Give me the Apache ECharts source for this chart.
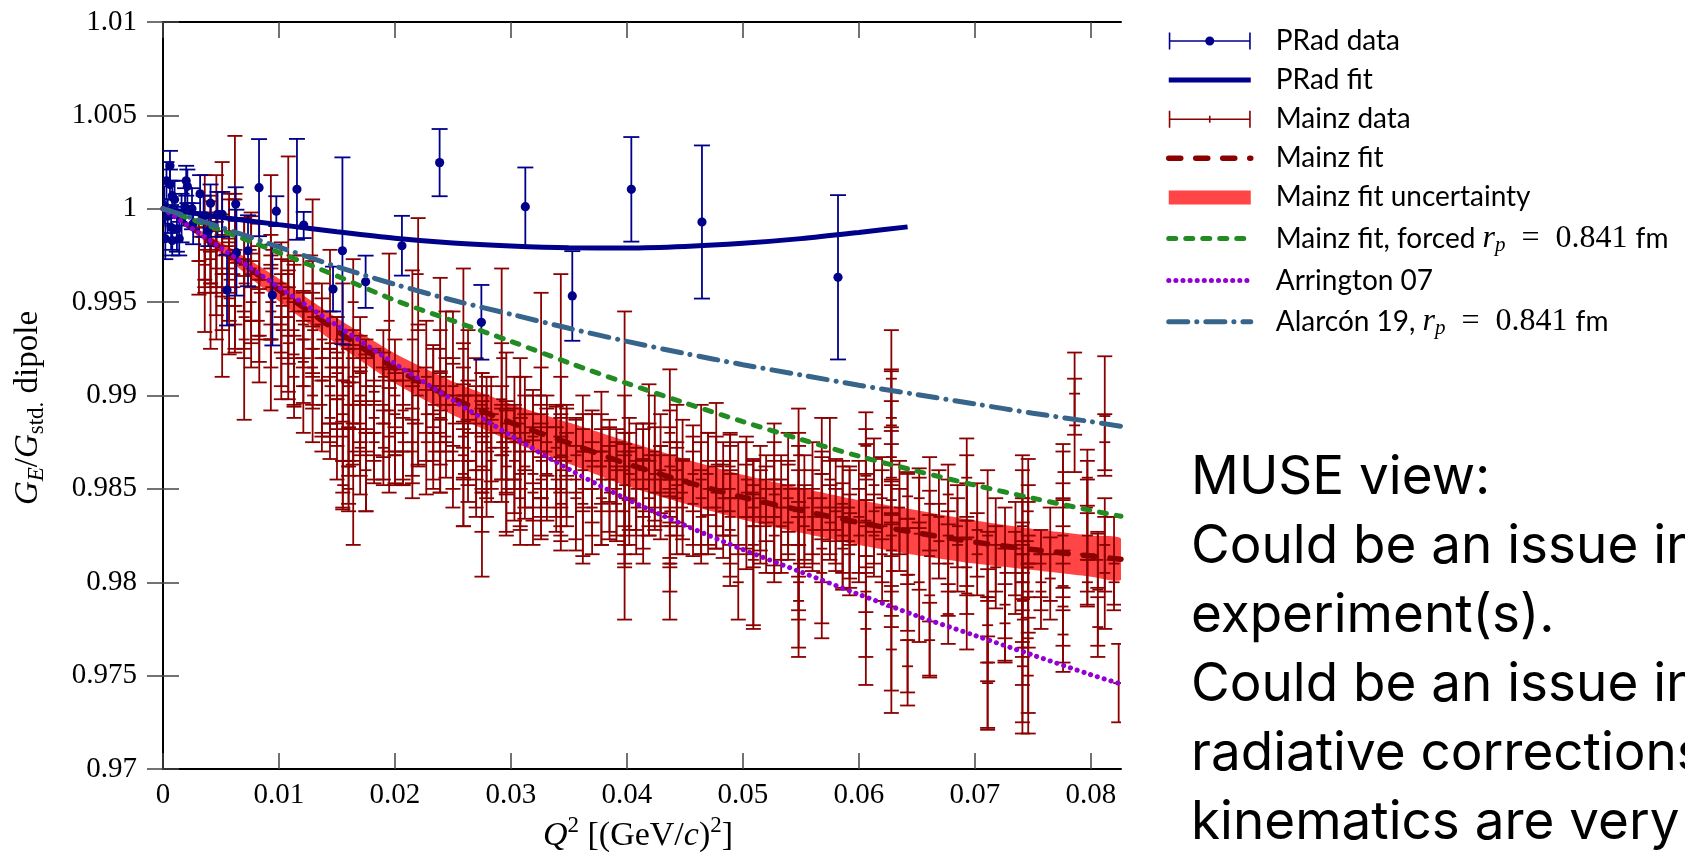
<!DOCTYPE html>
<html>
<head>
<meta charset="utf-8">
<title>G_E / G_std. dipole vs Q2</title>
<script src="https://cdn.jsdelivr.net/npm/echarts@6/dist/echarts.min.js"></script>
<style>
  html, body { margin: 0; padding: 0; background: #fff; }
  #chart { width: 1685px; height: 852px; }
</style>
</head>
<body>
<div id="chart"></div>
<script>
const SERIF = 'Liberation Serif';
const SANS = 'Lato';

// axis ticks
const xTicks = [0, 0.01, 0.02, 0.03, 0.04, 0.05, 0.06, 0.07, 0.08];
const yTicks = [0.97, 0.975, 0.98, 0.985, 0.99, 0.995, 1, 1.005, 1.01];

// PRad data: [Q2, G, err]
const pradPoints = [
  [0.0001, 1.0002, 0.0010], [0.0002, 0.9984, 0.0011], [0.0003, 1.0015, 0.0010],
  [0.0004, 0.9996, 0.0009], [0.0006, 1.0023, 0.0008], [0.0006, 1.0013, 0.0008],
  [0.0007, 0.9990, 0.0012], [0.0008, 1.0007, 0.0008], [0.0008, 0.9983, 0.0008],
  [0.0010, 1.0005, 0.0010], [0.0012, 0.9989, 0.0012], [0.0014, 0.9984, 0.0009],
  [0.0016, 0.9995, 0.0013], [0.0019, 1.0001, 0.0010], [0.0020, 1.0015, 0.0008],
  [0.0021, 1.0012, 0.0009], [0.0025, 1.0000, 0.0011], [0.0026, 0.9992, 0.0011],
  [0.0032, 1.0008, 0.0010], [0.0035, 0.9996, 0.0011], [0.0039, 0.9988, 0.0008],
  [0.0041, 1.0003, 0.0010], [0.0047, 0.9997, 0.0012], [0.0051, 0.9997, 0.0012],
  [0.00552, 0.99565, 0.0019], [0.00633, 0.99765, 0.0023], [0.00627, 1.00025, 0.0009],
  [0.00733, 0.99775, 0.0019], [0.00828, 1.00113, 0.0026], [0.00943, 0.99538, 0.0027],
  [0.00977, 0.99987, 0.0008], [0.01155, 1.00104, 0.0027], [0.01213, 0.99913, 0.0007],
  [0.01466, 0.99570, 0.0012], [0.01547, 0.99775, 0.0050], [0.01747, 0.99609, 0.0014],
  [0.0206, 0.99802, 0.0016], [0.02385, 1.00247, 0.0018], [0.02745, 0.99392, 0.0020],
  [0.03124, 1.00011, 0.0021], [0.03529, 0.99533, 0.0024], [0.04038, 1.00104, 0.0028],
  [0.04647, 0.99929, 0.0041], [0.0582, 0.99633, 0.0044]
];

// Mainz data, by Q2 column: [Q2, [[G, err], ...]]
const mainzColsA = [
  [0.0031, [[0.9985, 0.0013], [0.9972, 0.0018]]],
  [0.0036, [[0.9990, 0.0028], [0.9978, 0.0020], [0.9962, 0.0028], [0.9970, 0.0015]]],
  [0.0041, [[0.9982, 0.0022], [0.9960, 0.0035], [0.9973, 0.0018], [0.9992, 0.0015]]],
  [0.0046, [[0.9988, 0.0030], [0.9968, 0.0025], [0.9955, 0.0025], [0.9978, 0.0020]]],
  [0.0051, [[0.9995, 0.0030], [0.9965, 0.0030], [0.9948, 0.0038], [0.9975, 0.0022]]],
  [0.0057, [[0.9980, 0.0025], [0.9962, 0.0022], [0.9952, 0.0030], [0.9988, 0.0020]]],
  [0.0062, [[1.0005, 0.0034], [0.9965, 0.0040], [0.9978, 0.0030], [0.9948, 0.0025], [0.9958, 0.0020]]],
  [0.0070, [[0.9960, 0.0035], [0.9942, 0.0022], [0.9970, 0.0025], [0.9930, 0.0043]]],
  [0.0076, [[0.9968, 0.0028], [0.9950, 0.0022], [0.9940, 0.0025], [0.9958, 0.0018], [0.9978, 0.0020]]],
  [0.0083, [[0.9955, 0.0025], [0.9940, 0.0022], [0.9962, 0.0030], [0.9932, 0.0025]]],
  [0.0093, [[0.9945, 0.0030], [0.9930, 0.0038], [0.9958, 0.0028], [0.9978, 0.0040], [0.9950, 0.0020]]],
  [0.0102, [[0.9948, 0.0025], [0.9935, 0.0030], [0.9920, 0.0022], [0.9960, 0.0022]]],
  [0.0108, [[0.9965, 0.0063], [0.9942, 0.0025], [0.9928, 0.0030], [0.9952, 0.0020]]],
  [0.0113, [[0.9935, 0.0040], [0.9922, 0.0028], [0.9945, 0.0025], [0.9910, 0.0022]]],
  [0.0121, [[0.9945, 0.0030], [0.9930, 0.0025], [0.9918, 0.0022], [0.9938, 0.0018], [0.9905, 0.0025]]],
  [0.0129, [[0.9925, 0.0030], [0.9935, 0.0025], [0.9915, 0.0022], [0.9942, 0.0030], [0.9900, 0.0025], [0.9975, 0.0030]]],
  [0.0137, [[0.9920, 0.0040], [0.9930, 0.0022], [0.9908, 0.0030], [0.9895, 0.0025]]],
  [0.0144, [[0.9915, 0.0030], [0.9928, 0.0050], [0.9900, 0.0025], [0.9888, 0.0022], [0.9905, 0.0020]]],
  [0.0150, [[0.9912, 0.0030], [0.9898, 0.0025], [0.9885, 0.0030], [0.9920, 0.0022]]],
  [0.0155, [[0.9900, 0.0060], [0.9890, 0.0025], [0.9878, 0.0030], [0.9908, 0.0022], [0.9852, 0.0013]]],
  [0.0160, [[0.9895, 0.0030], [0.9905, 0.0022], [0.9882, 0.0025], [0.9862, 0.0020], [0.9850, 0.0012]]],
  [0.0164, [[0.9870, 0.0050], [0.9895, 0.0030], [0.9910, 0.0025], [0.9885, 0.0022], [0.9950, 0.0023]]],
  [0.0170, [[0.9900, 0.0032], [0.9885, 0.0028], [0.9872, 0.0025], [0.9912, 0.0030], [0.9895, 0.0020]]],
  [0.0175, [[0.9880, 0.0042], [0.9895, 0.0025], [0.9905, 0.0025], [0.9860, 0.0022]]],
  [0.0182, [[0.9895, 0.0030], [0.9880, 0.0025], [0.9875, 0.0022], [0.9902, 0.0022], [0.9888, 0.0020]]],
  [0.0190, [[0.9885, 0.0030], [0.9872, 0.0020], [0.9895, 0.0028], [0.9910, 0.0025]]],
  [0.0195, [[0.9940, 0.0036], [0.9878, 0.0030], [0.9892, 0.0022]]],
  [0.0200, [[0.9880, 0.0028], [0.9868, 0.0015], [0.9890, 0.0022], [0.9900, 0.0030]]],
  [0.0207, [[0.9880, 0.0028], [0.9870, 0.0018], [0.9892, 0.0022], [0.9875, 0.0020]]],
  [0.0215, [[0.9875, 0.0030], [0.9870, 0.0017], [0.9885, 0.0028], [0.9930, 0.0037]]],
  [0.0220, [[0.9965, 0.0030], [0.9900, 0.0038], [0.9885, 0.0022]]]
];

const mainzColsB = [
  [0.0227, [[0.9910, 0.0030], [0.9890, 0.0025], [0.9875, 0.0028]]],
  [0.0233, [[0.9895, 0.0030], [0.9880, 0.0025], [0.9905, 0.0022], [0.9870, 0.0020]]],
  [0.0239, [[0.9925, 0.0038], [0.9905, 0.0030], [0.9888, 0.0025], [0.9870, 0.0022], [0.9880, 0.0032]]],
  [0.0244, [[0.9910, 0.0035], [0.9895, 0.0025], [0.9878, 0.0022]]],
  [0.0250, [[0.9905, 0.0040], [0.9885, 0.0035], [0.9870, 0.0030], [0.9895, 0.0022]]],
  [0.0259, [[0.9925, 0.0043], [0.9900, 0.0028], [0.9885, 0.0030], [0.9868, 0.0038], [0.9878, 0.0022], [0.9858, 0.0028]]],
  [0.0263, [[0.9900, 0.0035], [0.9880, 0.0028], [0.9865, 0.0022]]],
  [0.0270, [[0.9890, 0.0030], [0.9870, 0.0030], [0.9880, 0.0025], [0.9860, 0.0025]]],
  [0.0275, [[0.9880, 0.0032], [0.9862, 0.0035], [0.9848, 0.0045], [0.9875, 0.0025], [0.9895, 0.0017]]],
  [0.0279, [[0.9875, 0.0030], [0.9860, 0.0025], [0.9890, 0.0020]]],
  [0.0283, [[0.9880, 0.0030], [0.9865, 0.0022], [0.9872, 0.0018]]],
  [0.0292, [[0.9920, 0.0048], [0.9898, 0.0030], [0.9880, 0.0025], [0.9868, 0.0025], [0.9875, 0.0020]]],
  [0.0296, [[0.9885, 0.0038], [0.9862, 0.0035], [0.9850, 0.0025], [0.9870, 0.0022]]],
  [0.0303, [[0.9880, 0.0030], [0.9865, 0.0028], [0.9875, 0.0020], [0.9855, 0.0022]]],
  [0.0308, [[0.9885, 0.0035], [0.9870, 0.0040], [0.9858, 0.0030], [0.9845, 0.0025]]],
  [0.0312, [[0.9875, 0.0035], [0.9862, 0.0028], [0.9880, 0.0020]]],
  [0.0319, [[0.9870, 0.0030], [0.9858, 0.0025], [0.9878, 0.0025], [0.9848, 0.0028]]],
  [0.0326, [[0.9900, 0.0055], [0.9880, 0.0035], [0.9865, 0.0030], [0.9855, 0.0030], [0.9870, 0.0020], [0.9845, 0.0022]]],
  [0.0331, [[0.9870, 0.0030], [0.9858, 0.0025], [0.9875, 0.0018]]],
  [0.0339, [[0.9865, 0.0030], [0.9855, 0.0028], [0.9872, 0.0022]]],
  [0.0343, [[0.9895, 0.0070], [0.9875, 0.0035], [0.9860, 0.0030], [0.9850, 0.0028], [0.9868, 0.0020], [0.9842, 0.0025]]],
  [0.0348, [[0.9865, 0.0030], [0.9855, 0.0025], [0.9875, 0.0018]]],
  [0.0356, [[0.9855, 0.0032], [0.9845, 0.0028], [0.9868, 0.0020]]],
  [0.0362, [[0.9870, 0.0030], [0.9850, 0.0040], [0.9860, 0.0022], [0.9842, 0.0028]]],
  [0.0370, [[0.9862, 0.0030], [0.9850, 0.0025], [0.9870, 0.0020], [0.9840, 0.0025]]],
  [0.0378, [[0.9870, 0.0032], [0.9855, 0.0035], [0.9845, 0.0025], [0.9862, 0.0020]]],
  [0.0385, [[0.9855, 0.0028], [0.9848, 0.0025], [0.9865, 0.0022]]],
  [0.0391, [[0.9850, 0.0025], [0.9860, 0.0022], [0.9842, 0.0020]]],
  [0.0398, [[0.9880, 0.0065], [0.9860, 0.0040], [0.9845, 0.0035], [0.9838, 0.0030], [0.9825, 0.0045], [0.9852, 0.0022]]],
  [0.0402, [[0.9858, 0.0030], [0.9845, 0.0025], [0.9862, 0.0018]]],
  [0.0408, [[0.9855, 0.0030], [0.9840, 0.0025], [0.9850, 0.0022]]],
  [0.0414, [[0.9850, 0.0032], [0.9838, 0.0028], [0.9860, 0.0025]]]
];

const mainzColsC = [
  [0.0419, [[0.9868, 0.0038], [0.9855, 0.0030], [0.9845, 0.0020]]],
  [0.0424, [[0.9870, 0.0030], [0.9858, 0.0025], [0.9848, 0.0020]]],
  [0.0429, [[0.9860, 0.0030], [0.9848, 0.0025], [0.9855, 0.0018]]],
  [0.0437, [[0.9880, 0.0034], [0.9862, 0.0030], [0.9848, 0.0035], [0.9838, 0.0030], [0.9825, 0.0030], [0.9810, 0.0030], [0.9855, 0.0020], [0.9830, 0.0020]]],
  [0.0443, [[0.9860, 0.0035], [0.9845, 0.0030], [0.9852, 0.0020]]],
  [0.0448, [[0.9855, 0.0032], [0.9840, 0.0025], [0.9848, 0.0018]]],
  [0.0457, [[0.9852, 0.0032], [0.9842, 0.0028], [0.9858, 0.0020]]],
  [0.0464, [[0.9855, 0.0040], [0.9845, 0.0030], [0.9835, 0.0025]]],
  [0.0470, [[0.9850, 0.0030], [0.9840, 0.0025], [0.9858, 0.0022]]],
  [0.0477, [[0.9863, 0.0033], [0.9848, 0.0030], [0.9840, 0.0022]]],
  [0.0483, [[0.9850, 0.0025], [0.9838, 0.0025], [0.9845, 0.0020]]],
  [0.0489, [[0.9862, 0.0017], [0.9850, 0.0030], [0.9838, 0.0035], [0.9828, 0.0030], [0.9845, 0.0020], [0.9835, 0.0025]]],
  [0.0496, [[0.9845, 0.0030], [0.9800, 0.0020]]],
  [0.0503, [[0.9848, 0.0030], [0.9835, 0.0028], [0.9855, 0.0020]]],
  [0.0509, [[0.9840, 0.0025], [0.9820, 0.0045], [0.9812, 0.0035], [0.9830, 0.0022], [0.9848, 0.0018]]],
  [0.0515, [[0.9845, 0.0028], [0.9835, 0.0025]]],
  [0.0520, [[0.9842, 0.0020], [0.9830, 0.0025], [0.9850, 0.0018]]],
  [0.0527, [[0.9847, 0.0038], [0.9835, 0.0030], [0.9825, 0.0025], [0.9855, 0.0020]]],
  [0.0533, [[0.9840, 0.0028], [0.9830, 0.0025]]],
  [0.0539, [[0.9850, 0.0030], [0.9840, 0.0025], [0.9832, 0.0020], [0.9845, 0.0018]]],
  [0.0548, [[0.9868, 0.0025], [0.9850, 0.0030], [0.9838, 0.0035], [0.9820, 0.0040], [0.9800, 0.0035], [0.9790, 0.0030], [0.9810, 0.0025]]],
  [0.0553, [[0.9840, 0.0028], [0.9830, 0.0022]]],
  [0.0560, [[0.9845, 0.0030], [0.9835, 0.0025], [0.9828, 0.0022]]],
  [0.0568, [[0.9858, 0.0030], [0.9835, 0.0035], [0.9818, 0.0040], [0.9805, 0.0035], [0.9845, 0.0022]]],
  [0.0575, [[0.9855, 0.0033], [0.9840, 0.0025], [0.9832, 0.0020]]],
  [0.0580, [[0.9838, 0.0028], [0.9828, 0.0022]]],
  [0.0586, [[0.9835, 0.0030], [0.9825, 0.0028], [0.9842, 0.0020], [0.9818, 0.0022]]],
  [0.0592, [[0.9832, 0.0030], [0.9822, 0.0025], [0.9840, 0.0020], [0.9815, 0.0022]]],
  [0.0600, [[0.9835, 0.0030], [0.9825, 0.0025]]],
  [0.0606, [[0.9873, 0.0018], [0.9857, 0.0025], [0.9844, 0.0030], [0.9833, 0.0025], [0.9814, 0.0030], [0.9795, 0.0035], [0.9775, 0.0030]]]
];

const mainzColsD = [
  [0.0613, [[0.9852, 0.0025], [0.9838, 0.0028], [0.9825, 0.0022]]],
  [0.0620, [[0.9845, 0.0022], [0.9830, 0.0030], [0.9815, 0.0025]]],
  [0.0628, [[0.9909, 0.0026], [0.9888, 0.0025], [0.9884, 0.0030], [0.9867, 0.0030], [0.9856, 0.0025], [0.9844, 0.0030], [0.9825, 0.0030], [0.9817, 0.0035], [0.9806, 0.0030], [0.9787, 0.0045], [0.9764, 0.0034]]],
  [0.0635, [[0.9840, 0.0025], [0.9828, 0.0022]]],
  [0.0642, [[0.9846, 0.0012], [0.9829, 0.0030], [0.9804, 0.0030], [0.9769, 0.0035], [0.9755, 0.0014]]],
  [0.0652, [[0.9845, 0.0016], [0.9826, 0.0030], [0.9800, 0.0032]]],
  [0.0661, [[0.9842, 0.0025], [0.9814, 0.0035], [0.9793, 0.0043], [0.9769, 0.0020]]],
  [0.0669, [[0.9835, 0.0025], [0.9822, 0.0020]]],
  [0.0677, [[0.9847, 0.0016], [0.9825, 0.0030], [0.9810, 0.0028], [0.9783, 0.0016]]],
  [0.0685, [[0.9830, 0.0022], [0.9820, 0.0025]]],
  [0.0693, [[0.9856, 0.0021], [0.9833, 0.0035], [0.9823, 0.0030], [0.9808, 0.0025], [0.9794, 0.0030]]],
  [0.0702, [[0.9828, 0.0025], [0.9815, 0.0022]]],
  [0.0711, [[0.9825, 0.0035], [0.9792, 0.0035], [0.9777, 0.0030], [0.9757, 0.0035], [0.9746, 0.0025]]],
  [0.0718, [[0.9820, 0.0025], [0.9808, 0.0022]]],
  [0.0726, [[0.9805, 0.0035], [0.9788, 0.0030], [0.9778, 0.0021]]],
  [0.0735, [[0.9818, 0.0025], [0.9805, 0.0022]]],
  [0.0741, [[0.9845, 0.0023], [0.9830, 0.0030], [0.9815, 0.0030], [0.9800, 0.0032], [0.9790, 0.0030], [0.9780, 0.0035], [0.9765, 0.0040], [0.9755, 0.0036]]],
  [0.0746, [[0.9838, 0.0028], [0.9822, 0.0030], [0.9808, 0.0035], [0.9795, 0.0030], [0.9770, 0.0040], [0.9750, 0.0031]]],
  [0.0757, [[0.9810, 0.0018], [0.9795, 0.0020], [0.9800, 0.0015]]],
  [0.0765, [[0.9815, 0.0025], [0.9802, 0.0022]]],
  [0.0776, [[0.9859, 0.0015], [0.9840, 0.0030], [0.9825, 0.0028], [0.9815, 0.0030], [0.9798, 0.0032], [0.9787, 0.0030], [0.9772, 0.0020]]],
  [0.0786, [[0.9901, 0.0022], [0.9884, 0.0025]]],
  [0.0797, [[0.9856, 0.0015], [0.9840, 0.0025], [0.9825, 0.0030], [0.9812, 0.0025], [0.9800, 0.0012]]],
  [0.0806, [[0.9812, 0.0015], [0.9796, 0.0030], [0.9776, 0.0016]]],
  [0.0812, [[0.9889, 0.0032], [0.9875, 0.0015], [0.9820, 0.0025], [0.9805, 0.0030]]],
  [0.0820, [[0.9810, 0.0025], [0.9800, 0.0012]]],
  [0.0824, [[0.9746, 0.0021]]]
];

const curveQ2 = [0, 0.005, 0.01, 0.015, 0.02, 0.025, 0.03, 0.035, 0.04, 0.045, 0.05, 0.055, 0.06, 0.065, 0.07, 0.075, 0.08, 0.0826];
const mainzFitG = [1.0, 0.9979, 0.99565, 0.99345, 0.99145, 0.98985, 0.98855, 0.98745, 0.98635, 0.9854, 0.98455, 0.98385, 0.9832, 0.98265, 0.98215, 0.98175, 0.9814, 0.98123];
const mainzBandLo = [1.0, 0.9976, 0.99505, 0.99275, 0.99065, 0.98895, 0.98755, 0.98635, 0.98515, 0.9842, 0.98335, 0.98265, 0.982, 0.98145, 0.981, 0.98065, 0.9803, 0.98013];
const mainzBandHi = [1.0, 0.9982, 0.99625, 0.99415, 0.99225, 0.99075, 0.98955, 0.98855, 0.98755, 0.9866, 0.98575, 0.98505, 0.9844, 0.98385, 0.9833, 0.98285, 0.9825, 0.98233];
const forcedG = [1.0, 0.99885, 0.99765, 0.9964, 0.9951, 0.994, 0.9929, 0.99175, 0.99065, 0.9896, 0.9886, 0.98765, 0.98675, 0.98595, 0.9852, 0.9845, 0.98385, 0.98353];
const arringtonG = [1.0, 0.9979, 0.9958, 0.99375, 0.9917, 0.98975, 0.98785, 0.98605, 0.98445, 0.98305, 0.98175, 0.98055, 0.97935, 0.9782, 0.97715, 0.9761, 0.97505, 0.97455];
const alarconG = [1.0, 0.999, 0.99795, 0.9969, 0.99595, 0.9951, 0.99435, 0.9936, 0.9929, 0.99225, 0.99165, 0.9911, 0.99055, 0.99005, 0.98955, 0.98905, 0.9886, 0.98835];

const pradFitQ2 = [0, 0.005, 0.01, 0.015, 0.02, 0.025, 0.03, 0.035, 0.04, 0.045, 0.05, 0.055, 0.06, 0.0642];
const pradFitG = [1.0, 0.99955, 0.99915, 0.99877, 0.99842, 0.99816, 0.998, 0.99791, 0.9979, 0.99798, 0.99815, 0.9984, 0.99873, 0.99903];

const mainzData = [];
[mainzColsA, mainzColsB, mainzColsC, mainzColsD].forEach(cols => {
  cols.forEach(([q2, pts]) => pts.forEach(([g, e]) => mainzData.push([q2, g, e])));
});
const zip = (xs, ys) => xs.map((x, i) => [x, ys[i]]);

const NAMES = {
  pradData: 'PRad data',
  pradFit: 'PRad fit',
  mainzData: 'Mainz data',
  mainzFit: 'Mainz fit',
  band: 'Mainz fit uncertainty',
  forced: 'Mainz fit, forced rp = 0.841 fm',
  arrington: 'Arrington 07',
  alarcon: 'Alarcón 19, rp = 0.841 fm'
};

function errorBars(capW, dotR, midW, lw) {
  return function (params, api) {
    const x = api.value(0), y = api.value(1), e = api.value(2);
    const hi = api.coord([x, y + e]);
    const lo = api.coord([x, y - e]);
    const c = api.coord([x, y]);
    const color = api.visual('color');
    const st = { stroke: color, lineWidth: lw, fill: null };
    const children = [
      { type: 'line', shape: { x1: hi[0], y1: hi[1], x2: lo[0], y2: lo[1] }, style: st },
      { type: 'line', shape: { x1: hi[0] - capW / 2, y1: hi[1], x2: hi[0] + capW / 2, y2: hi[1] }, style: st },
      { type: 'line', shape: { x1: lo[0] - capW / 2, y1: lo[1], x2: lo[0] + capW / 2, y2: lo[1] }, style: st }
    ];
    if (dotR) {
      children.push({ type: 'circle', shape: { cx: c[0], cy: c[1], r: dotR }, style: { fill: color } });
    } else {
      children.push({ type: 'line', shape: { x1: c[0] - midW / 2, y1: c[1], x2: c[0] + midW / 2, y2: c[1] }, style: st });
    }
    return { type: 'group', children: children };
  };
}

function bandPolygon(params, api) {
  if (params.dataIndex !== 0) return null;
  const pts = [];
  for (let i = 0; i < curveQ2.length; i++) pts.push(api.coord([curveQ2[i], mainzBandLo[i]]));
  for (let i = curveQ2.length - 1; i >= 0; i--) pts.push(api.coord([curveQ2[i], mainzBandHi[i]]));
  return { type: 'polygon', shape: { points: pts, smooth: 0.2 }, style: { fill: api.visual('color') } };
}

const legendText = {
  [NAMES.forced]: '{t|Mainz fit, forced }{m|r}{ms|p}{mn|  =  0.841 }{t|fm}',
  [NAMES.alarcon]: '{t|Alarcón 19, }{m|r}{ms|p}{mn|  =  0.841 }{t|fm}'
};

const tickStyle = { show: true, inside: true, length: 16, lineStyle: { color: '#444', width: 1.5 } };
const lineStyleAxis = { show: true, lineStyle: { color: '#000', width: 2 } };

const chart = echarts.init(document.getElementById('chart'));
chart.setOption({
  animation: false,
  backgroundColor: '#fff',
  grid: { left: 163, right: 564, top: 22, bottom: 83, outerBoundsMode: 'none' },
  xAxis: [{
    type: 'value', min: 0, max: 0.0826, position: 'bottom',
    axisLine: lineStyleAxis,
    axisTick: Object.assign({ customValues: xTicks }, tickStyle),
    splitLine: { show: false },
    axisLabel: {
      customValues: xTicks, margin: 12, color: '#000',
      fontFamily: SERIF, fontSize: 29,
      formatter: v => String(+v.toFixed(2))
    },
    name: '{i|Q}{sup|2}{n| [(GeV/}{i|c}{n|)}{sup|2}{n|]}',
    nameLocation: 'middle', nameGap: 40,
    nameTextStyle: {
      color: '#000',
      padding: [0, 8, 0, 0],
      rich: {
        i: { fontFamily: SERIF, fontStyle: 'italic', fontSize: 34, lineHeight: 42, color: '#000' },
        n: { fontFamily: SERIF, fontSize: 34, lineHeight: 42, color: '#000' },
        sup: { fontFamily: SERIF, fontSize: 23, lineHeight: 23, verticalAlign: 'top', color: '#000' }
      }
    }
  }, {
    type: 'value', min: 0, max: 0.0826, position: 'top',
    axisLine: lineStyleAxis,
    axisTick: Object.assign({ customValues: xTicks }, tickStyle),
    axisLabel: { show: false },
    splitLine: { show: false }
  }],
  yAxis: [{
    type: 'value', min: 0.97, max: 1.01, position: 'left',
    axisLine: lineStyleAxis,
    axisTick: Object.assign({ customValues: yTicks }, tickStyle),
    splitLine: { show: false },
    axisLabel: {
      customValues: yTicks, margin: 26, color: '#000',
      fontFamily: SERIF, fontSize: 29,
      formatter: v => String(+v.toFixed(3))
    },
    name: '{gi|G}{si|E}{n|/}{gi|G}{s|std.}{n| dipole}',
    nameLocation: 'middle', nameRotate: 90, nameGap: 115,
    nameTextStyle: {
      color: '#000',
      padding: [0, 25, 0, 0],
      rich: {
        gi: { fontFamily: SERIF, fontStyle: 'italic', fontSize: 33, lineHeight: 40, color: '#000' },
        n: { fontFamily: SERIF, fontSize: 33, lineHeight: 40, color: '#000' },
        si: { fontFamily: SERIF, fontStyle: 'italic', fontSize: 23, lineHeight: 20, verticalAlign: 'bottom', color: '#000' },
        s: { fontFamily: SERIF, fontSize: 23, lineHeight: 20, verticalAlign: 'bottom', color: '#000' }
      }
    }
  }, {
    type: 'value', min: 0.97, max: 1.01, position: 'right',
    axisLine: lineStyleAxis,
    axisTick: Object.assign({ customValues: yTicks }, tickStyle),
    axisLabel: { show: false },
    splitLine: { show: false }
  }],
  legend: {
    orient: 'vertical', left: 1166, top: 27, padding: 0,
    itemWidth: 82, itemHeight: 17, itemGap: 11.1,
    selectedMode: false,
    formatter: name => legendText[name] || '{t|' + name + '}',
    textStyle: {
      padding: [0, 0, 0, 20],
      rich: {
        t: { fontFamily: SANS, fontSize: 28, lineHeight: 34, color: '#000' },
        m: { fontFamily: SERIF, fontStyle: 'italic', fontSize: 32, lineHeight: 34, color: '#000' },
        ms: { fontFamily: SERIF, fontStyle: 'italic', fontSize: 21, lineHeight: 16, verticalAlign: 'bottom', color: '#000' },
        mn: { fontFamily: SERIF, fontSize: 32, lineHeight: 34, color: '#000' }
      }
    },
    data: [
      { name: NAMES.pradData, icon: 'path://M0,0h1.6v17h-1.6zM80.4,0h1.6v17h-1.6zM0,7.7h82v1.6h-82zM36.5,8.5a4.5,4.5 0 1 1 9,0a4.5,4.5 0 1 1 -9,0z' },
      { name: NAMES.pradFit, itemStyle: { opacity: 0 }, lineStyle: { width: 5 } },
      { name: NAMES.mainzData, icon: 'path://M0,0h1.6v17h-1.6zM80.4,0h1.6v17h-1.6zM0,7.7h82v1.6h-82zM40.2,5h1.6v7h-1.6z' },
      { name: NAMES.mainzFit, itemStyle: { opacity: 0 }, lineStyle: { width: 5.5 } },
      { name: NAMES.band, icon: 'path://M0,0h82v14h-82z' },
      { name: NAMES.forced, itemStyle: { opacity: 0 }, lineStyle: { width: 5 } },
      { name: NAMES.arrington, itemStyle: { opacity: 0 }, lineStyle: { width: 5 } },
      { name: NAMES.alarcon, itemStyle: { opacity: 0 }, lineStyle: { width: 5 } }
    ]
  },
  graphic: [
    'MUSE view:',
    'Could be an issue in',
    'experiment(s).',
    'Could be an issue in',
    'radiative corrections',
    'kinematics are very'
  ].map((txt, i) => ({
    type: 'text', x: 1191, y: 478 + i * 69, silent: true,
    style: { text: txt, fill: '#000', font: '53px Inter', verticalAlign: 'middle', align: 'left' }
  })),
  series: [
    {
      name: NAMES.band, type: 'custom', z: 1, clip: true,
      itemStyle: { color: '#ff4545' },
      encode: { x: 0, y: [1, 2] },
      data: curveQ2.map((q, i) => [q, mainzBandLo[i], mainzBandHi[i]]),
      renderItem: bandPolygon
    },
    {
      name: NAMES.mainzData, type: 'custom', z: 2, clip: true,
      itemStyle: { color: '#8b0000' },
      encode: { x: 0, y: 1 },
      data: mainzData,
      renderItem: errorBars(15, 0, 11, 1.8)
    },
    {
      name: NAMES.mainzFit, type: 'line', z: 3, symbol: 'none', smooth: 0.3,
      data: zip(curveQ2, mainzFitG),
      itemStyle: { color: '#8b0000' },
      lineStyle: { color: '#8b0000', width: 5.5, type: [12, 15], cap: 'round' }
    },
    {
      name: NAMES.pradData, type: 'custom', z: 4, clip: true,
      itemStyle: { color: '#00008b' },
      encode: { x: 0, y: 1 },
      data: pradPoints,
      renderItem: errorBars(16, 4.6, 0, 1.8)
    },
    {
      name: NAMES.pradFit, type: 'line', z: 5, symbol: 'none', smooth: 0.3,
      data: zip(pradFitQ2, pradFitG),
      itemStyle: { color: '#00008b' },
      lineStyle: { color: '#00008b', width: 5 }
    },
    {
      name: NAMES.forced, type: 'line', z: 6, symbol: 'none', smooth: 0.3,
      data: zip(curveQ2, forcedG),
      itemStyle: { color: '#228b22' },
      lineStyle: { color: '#228b22', width: 5, type: [7, 10], cap: 'round' }
    },
    {
      name: NAMES.arrington, type: 'line', z: 6, symbol: 'none', smooth: 0.3,
      data: zip(curveQ2, arringtonG),
      itemStyle: { color: '#9400d3' },
      lineStyle: { color: '#9400d3', width: 5, type: [0.1, 7], cap: 'round' }
    },
    {
      name: NAMES.alarcon, type: 'line', z: 6, symbol: 'none', smooth: 0.3,
      data: zip(curveQ2, alarconG),
      itemStyle: { color: '#36648b' },
      lineStyle: { color: '#36648b', width: 5, type: [19, 9, 0.1, 9], cap: 'round' }
    }
  ]
});
window.addEventListener('resize', () => chart.resize());
</script>
</body>
</html>
